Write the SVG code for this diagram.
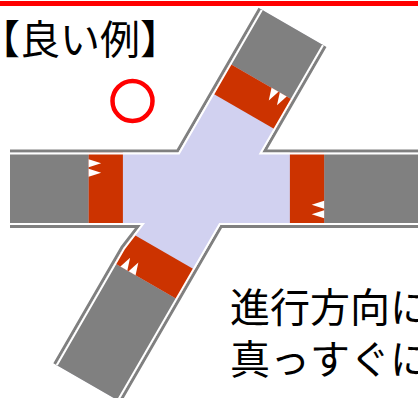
<svg xmlns="http://www.w3.org/2000/svg" width="418" height="398" viewBox="0 0 418 398">
  <style>
    .jp { font-family: "Noto Sans CJK JP", "Noto Sans", sans-serif; font-size: 40px; fill: #000; }
    .lav { fill: #D1D1F0; }
    .asphalt { fill: #808080; }
    .band { fill: #CC3300; }
    .tooth { fill: #FFFFFF; }
    .edge-out { fill: none; stroke: #808080; stroke-width: 6; stroke-linejoin: miter; }
    .edge-in { fill: none; stroke: #FFFFFF; stroke-width: 4; stroke-linejoin: miter; }
  </style>
  <defs>
    <!-- outline of the carriageway: horizontal road crossed by a 60 degree road -->
    <path id="cross" d="M10,152.5 L178.4,152.5 L261.1,9.3 L323.9,45.5 L262.1,152.5 L430,152.5 L430,225 L220.3,225 L118.7,400.9 L55.9,364.7 L123.3,248 L141,225 L10,225 Z"/>
    <clipPath id="inside">
      <use href="#cross"/>
    </clipPath>
    <clipPath id="outside">
      <path clip-rule="evenodd" d="M-20,-20 H440 V420 H-20 Z M10,152.5 L178.4,152.5 L261.1,9.3 L323.9,45.5 L262.1,152.5 L430,152.5 L430,225 L220.3,225 L118.7,400.9 L55.9,364.7 L123.3,248 L141,225 L10,225 Z"/>
    </clipPath>
    <!-- one approach arm, outward along +x: crossing band with yield teeth -->
    <g id="arm-h">
      <rect class="asphalt" x="117.75" y="-45" width="300" height="90"/>
      <rect class="band" x="83.5" y="-45" width="34.25" height="90"/>
      <polygon class="tooth" points="117.75,12 105.25,16 117.75,20"/>
      <polygon class="tooth" points="117.75,21.5 105.25,25.5 117.75,29.5"/>
    </g>
    <g id="arm-d">
      <rect class="asphalt" x="115.2" y="-45" width="300" height="90"/>
      <rect class="band" x="80.9" y="-45" width="34.3" height="90"/>
      <polygon class="tooth" points="115.2,12 102.7,16 115.2,20"/>
      <polygon class="tooth" points="115.2,21.5 102.7,25.5 115.2,29.5"/>
    </g>
  </defs>

  <!-- top rule -->
  <rect x="0" y="1" width="418" height="5" fill="#FF0000"/>

  <g id="title">
    <text class="jp" x="-20" y="54">【良い例】</text>
  </g>

  <g id="mark">
    <circle cx="132.5" cy="101" r="20" fill="none" stroke="#FF0000" stroke-width="4.5"/>
  </g>

  <g id="intersection" clip-path="url(#inside)">
    <use href="#cross" class="lav"/>
    <g transform="translate(206.4 188.75)">
      <use id="arm-west" href="#arm-h" transform="rotate(180)"/>
      <use id="arm-east" href="#arm-h"/>
    </g>
    <g transform="translate(203.55 181.5)">
      <use id="arm-north" href="#arm-d" transform="rotate(-60)"/>
      <use id="arm-south" href="#arm-d" transform="rotate(120)"/>
    </g>
  </g>

  <g id="connectors">
    <g clip-path="url(#outside)">
      <polyline class="edge-out" points="10,152.5 178.4,152.5 261.1,9.3"/>
      <polyline class="edge-out" points="323.9,45.5 262.1,152.5 430,152.5"/>
      <polyline class="edge-out" points="430,225 220.3,225 118.7,400.9"/>
      <polyline class="edge-out" points="55.9,364.7 123.3,248 141,225 10,225"/>
    </g>
    <g clip-path="url(#inside)">
      <polyline class="edge-in" points="10,152.5 178.4,152.5 261.1,9.3"/>
      <polyline class="edge-in" points="323.9,45.5 262.1,152.5 430,152.5"/>
      <polyline class="edge-in" points="430,225 220.3,225 118.7,400.9"/>
      <polyline class="edge-in" points="55.9,364.7 123.3,248 141,225 10,225"/>
    </g>
  </g>

  <g id="caption">
    <text class="jp" x="230" y="322">進行方向に</text>
    <text class="jp" x="230" y="374">真っすぐに</text>
  </g>
</svg>
